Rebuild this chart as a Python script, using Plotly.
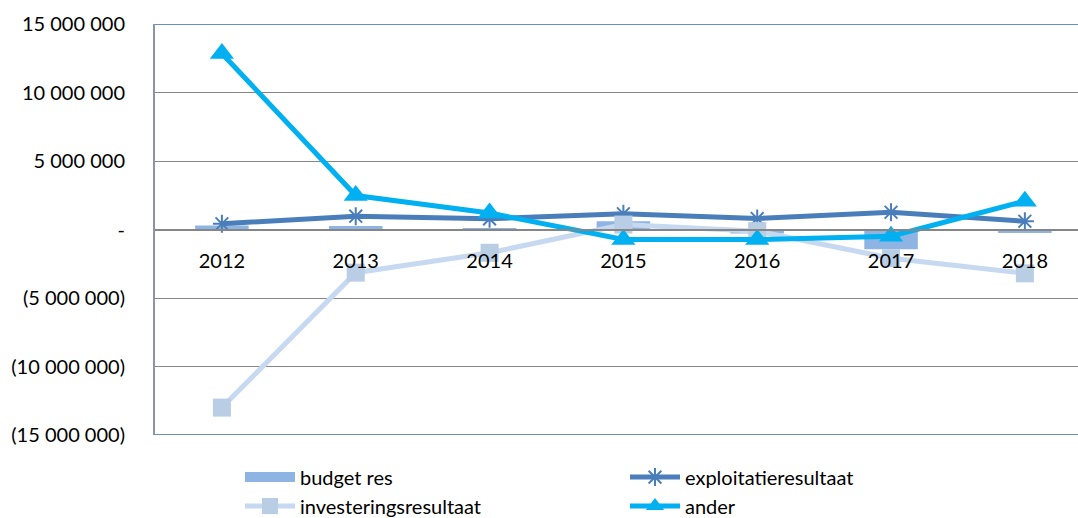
import plotly.graph_objects as go

years = ["2012", "2013", "2014", "2015", "2016", "2017", "2018"]
budget_res = [300000, 250000, 50000, 600000, -300000, -1450000, -250000]
exploitatie = [420000, 970000, 780000, 1150000, 800000, 1260000, 600000]
investering = [-13000000, -3150000, -1700000, 360000, -120000, -2100000, -3200000]
ander = [12850000, 2480000, 1200000, -730000, -730000, -490000, 2070000]

y_ticks = [15000000, 10000000, 5000000, 0, -5000000, -10000000, -15000000]
y_labels = ["15 000 000", "10 000 000", "5 000 000", "-", "(5 000 000)", "(10 000 000)", "(15 000 000)"]

FONT = "Lato, Calibri, sans-serif"
FS = 20

fig = go.Figure()
fig.add_trace(go.Bar(x=years, y=budget_res, name="budget res", width=0.4, showlegend=False,
                     marker=dict(color="#8EB4E3", line=dict(width=0))))
# legend swatch for the bar series (wide rectangle like the original)
fig.add_trace(go.Scatter(x=[None], y=[None], name="budget res", mode="lines",
                         line=dict(color="#8EB4E3", width=14)))
fig.add_trace(go.Scatter(x=years, y=exploitatie, name="exploitatieresultaat", mode="lines+markers",
                         line=dict(color="#4A7EBB", width=5),
                         marker=dict(symbol="asterisk-open", size=15, color="#4A7EBB",
                                     line=dict(color="#4A7EBB", width=2))))
fig.add_trace(go.Scatter(x=years, y=investering, name="investeringsresultaat", mode="lines+markers",
                         line=dict(color="#C6D9F1", width=5),
                         marker=dict(symbol="square", size=18, color="#B9CDE5")))
fig.add_trace(go.Scatter(x=years, y=ander, name="ander", mode="lines+markers",
                         line=dict(color="#00B0F0", width=5),
                         marker=dict(symbol="triangle-up", size=21, color="#00B0F0")))

fig.add_shape(type="line", xref="paper", yref="y", x0=0, x1=1, y0=y_ticks[0], y1=y_ticks[0],
              line=dict(color="#6A8FC8", width=2), layer="below")
fig.add_shape(type="line", xref="paper", yref="y", x0=0, x1=1, y0=y_ticks[-1], y1=y_ticks[-1],
              line=dict(color="#6A8FC8", width=2), layer="below")

fig.update_layout(
    width=1078, height=518,
    margin=dict(l=155, r=0, t=24, b=83, autoexpand=False),
    paper_bgcolor="white", plot_bgcolor="white",
    font=dict(family=FONT, size=FS, color="black"),
    barmode="overlay",
    showlegend=True,
    legend=dict(orientation="h", x=(240 - 155) / 923, xanchor="left", y=-0.055, yanchor="top",
                entrywidth=320, entrywidthmode="pixels", itemwidth=50,
                font=dict(family=FONT, size=FS), tracegroupgap=0, traceorder="normal",
                bgcolor="rgba(0,0,0,0)"),
    xaxis=dict(type="category", range=[-0.5, 6.397], anchor="free", position=0.5,
               showline=True, linecolor="#868686", linewidth=2, showgrid=False,
               ticks="", ticklabelstandoff=13, zeroline=False,
               tickfont=dict(family=FONT, size=FS)),
    yaxis=dict(range=[-15000000, 15000000], tickvals=y_ticks, ticktext=y_labels,
               showgrid=True, gridcolor="#868686", gridwidth=1, zeroline=False,
               showline=True, linecolor="#8A96A8", linewidth=2, ticks="",
               ticklabelstandoff=24, tickfont=dict(family=FONT, size=FS)),
)

fig.write_html("out.html")
